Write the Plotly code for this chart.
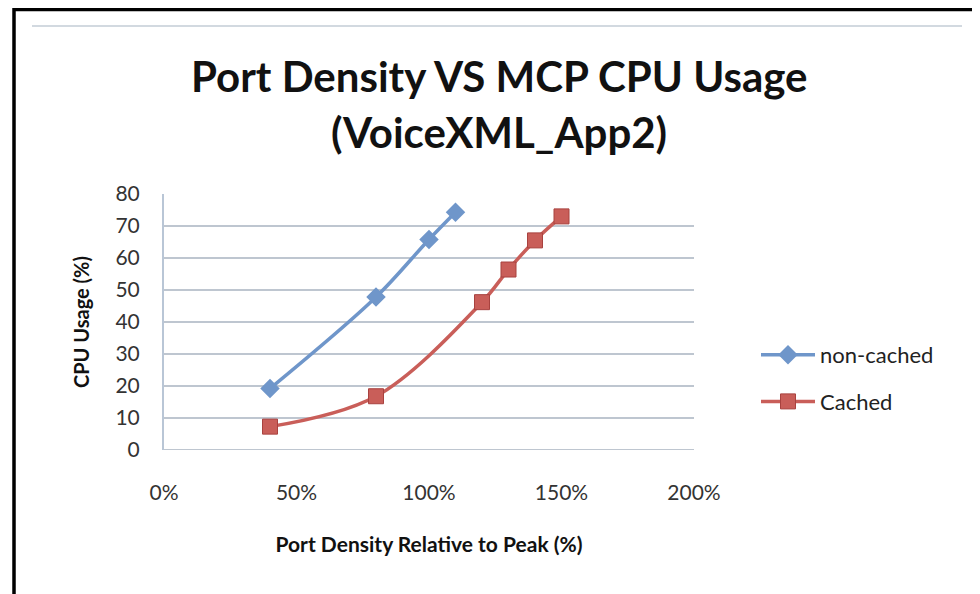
import plotly.graph_objects as go

# Data
noncached_x = [0.40, 0.80, 1.00, 1.10]
noncached_y = [19.2, 47.8, 65.8, 74.3]
cached_x = [0.40, 0.80, 1.20, 1.30, 1.40, 1.50]
cached_y = [7.3, 16.8, 46.2, 56.4, 65.5, 73.0]

x_ticks = [0, 0.5, 1.0, 1.5, 2.0]
y_ticks = [0, 10, 20, 30, 40, 50, 60, 70, 80]

title_line1 = "Port Density VS MCP CPU Usage"
title_line2 = "(VoiceXML_App2)"
x_title = "Port Density Relative to Peak (%)"
y_title = "CPU Usage (%)"

FONT = "Lato, 'Open Sans', sans-serif"
BLUE = "#6F96CA"
RED = "#C95E59"

fig = go.Figure()
fig.add_trace(go.Scatter(
    x=noncached_x, y=noncached_y, name="non-cached", mode="lines+markers",
    line=dict(color=BLUE, width=3.5, shape="spline"),
    marker=dict(symbol="diamond", size=15, color=BLUE),
    legendgroup="a",
))
fig.add_trace(go.Scatter(
    x=cached_x, y=cached_y, name="Cached", mode="lines+markers",
    line=dict(color=RED, width=3.5, shape="spline"),
    marker=dict(symbol="square", size=15, color=RED, line=dict(color="#A8423F", width=1)),
    legendgroup="b",
))

OFF = 8  # page offset of the figure in the browser
W, H = 980 - OFF, 594 - OFF
pw, ph = 530, 256
L, T = 164 - OFF, 194 - OFF
R, B = W - L - pw, H - T - ph

def px2x(px):
    return (px - OFF - L) / pw

def py2y(py):
    return (H - B - (py - OFF)) / ph

fig.update_layout(
    width=W, height=H,
    margin=dict(l=L, r=R, t=T, b=B),
    paper_bgcolor="white", plot_bgcolor="white",
    font=dict(family=FONT, color="#222222"),
    showlegend=True,
    legend=dict(
        x=px2x(756), y=py2y(334), xanchor="left", yanchor="top",
        font=dict(size=22, family=FONT, color="#222222"),
        traceorder="grouped", tracegroupgap=15,
        itemwidth=54, bgcolor="rgba(0,0,0,0)",
    ),
    xaxis=dict(
        range=[0, 2], tickvals=x_ticks, tickformat=".0%",
        showgrid=False, zeroline=False, showline=False,
        ticks="outside", ticklen=24, tickcolor="rgba(0,0,0,0)",
        tickfont=dict(size=21, family=FONT, color="#333333"),
        title=dict(text="<b>" + x_title + "</b>", font=dict(size=21, family=FONT, color="#111111"), standoff=34),
        fixedrange=True,
    ),
    yaxis=dict(
        range=[0, 80], tickvals=y_ticks,
        showgrid=True, gridcolor="#BEC6D0", gridwidth=2,
        zeroline=False, showline=True, linecolor="#B9C6D6", linewidth=2,
        ticks="outside", ticklen=18, tickcolor="rgba(0,0,0,0)",
        tickfont=dict(size=21, family=FONT, color="#333333"),
        title=dict(text="<b>" + y_title + "</b>", font=dict(size=20, family=FONT, color="#111111"), standoff=20),
        fixedrange=True,
    ),
)

# bottom gridline (y=0)
fig.add_shape(type="line", xref="paper", yref="y", x0=0, x1=1, y0=0, y1=0,
              line=dict(color="#BEC6D0", width=2), layer="below")

# outer black frame
fig.add_shape(type="rect", xref="paper", yref="paper",
              x0=px2x(14), x1=px2x(977), y0=py2y(9.5), y1=py2y(640),
              line=dict(color="black", width=3.5))
# thin gray rule near the top
fig.add_shape(type="line", xref="paper", yref="paper",
              x0=px2x(32), x1=px2x(962), y0=py2y(26), y1=py2y(26),
              line=dict(color="#C3CCD6", width=1.5))

fig.add_annotation(text="<b>" + title_line1 + "</b>", xref="paper", yref="paper",
                   x=px2x(499), y=py2y(76), xanchor="center", yanchor="middle",
                   showarrow=False, font=dict(size=42, family=FONT, color="#111111"))
fig.add_annotation(text="<b>" + title_line2 + "</b>", xref="paper", yref="paper",
                   x=px2x(499), y=py2y(132), xanchor="center", yanchor="middle",
                   showarrow=False, font=dict(size=42, family=FONT, color="#111111"))

fig.write_html("out.html")
